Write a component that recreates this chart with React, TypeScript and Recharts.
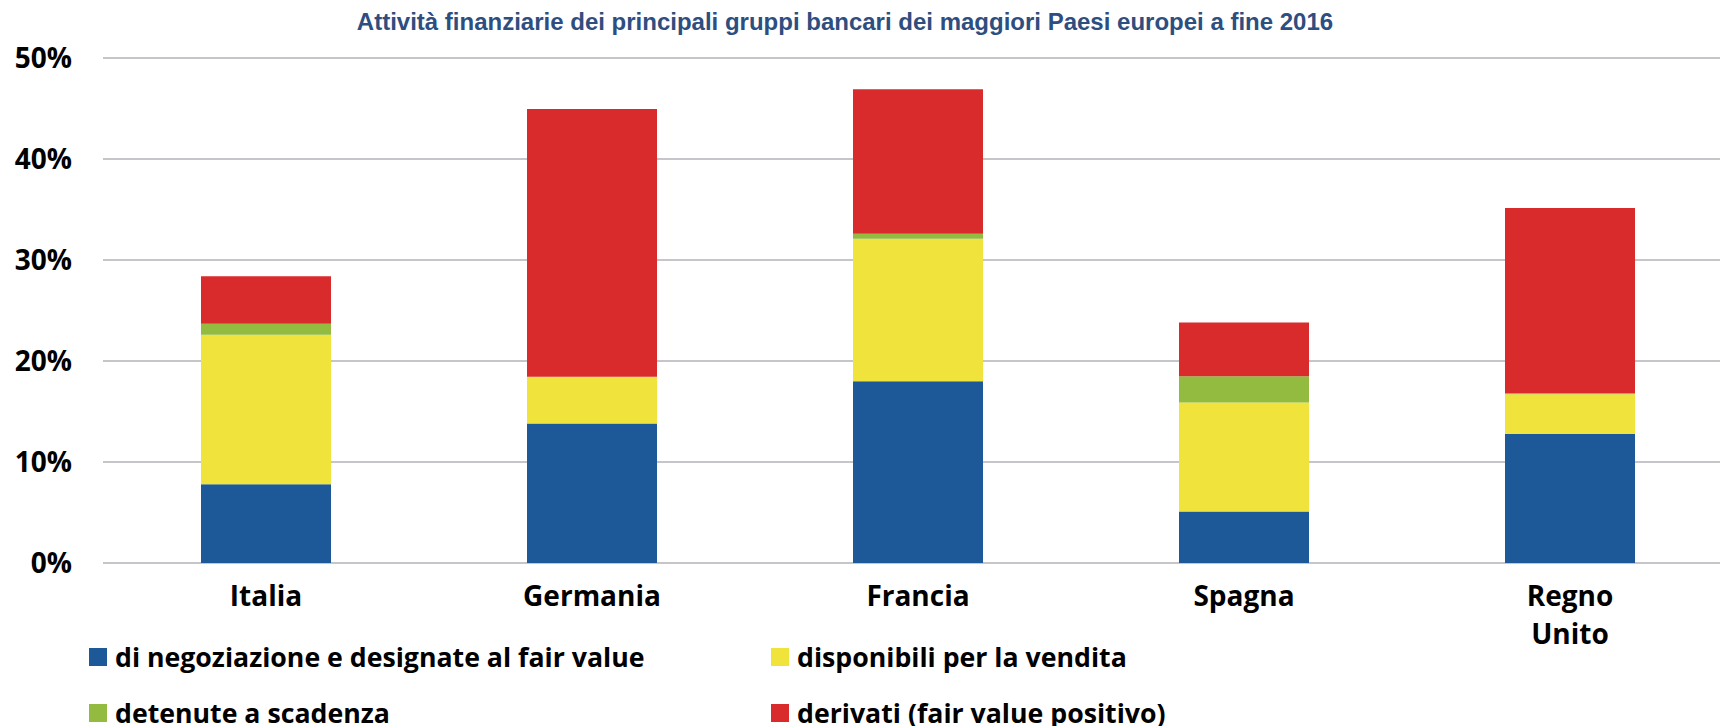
import { BarChart, Bar, XAxis, YAxis, CartesianGrid, Legend } from 'recharts'

const categories = ['Italia', 'Germania', 'Francia', 'Spagna', 'Regno Unito']
const negoziazione = [7.8, 13.8, 18.0, 5.1, 12.8]
const disponibili = [14.8, 4.65, 14.1, 10.8, 3.9]
const scadenza = [1.1, 0.0, 0.5, 2.6, 0.1]
const derivati = [4.7, 26.5, 14.3, 5.3, 18.35]
const yTicks = [0, 10, 20, 30, 40, 50]

const seriesNames = [
  'di negoziazione e designate al fair value',
  'disponibili per la vendita',
  'detenute a scadenza',
  'derivati (fair value positivo)',
]
const colors = ['#1d5899', '#f0e33c', '#92bb3f', '#d92b2c']

const data = categories.map((name, i) => ({
  name,
  negoziazione: negoziazione[i],
  disponibili: disponibili[i],
  scadenza: scadenza[i],
  derivati: derivati[i],
}))

const font = '"Open Sans", sans-serif'

function CategoryTick({ x, y, payload }: any) {
  const lines = String(payload.value).split(' ')
  return (
    <text x={x} y={y} textAnchor="middle" fontFamily={font} fontWeight={700} fontSize={28} fill="#000">
      {lines.map((line, i) => (
        <tspan key={i} x={x} dy={i === 0 ? 43 : 38}>
          {line}
        </tspan>
      ))}
    </text>
  )
}

function LegendContent({ payload }: any) {
  // keep the series order of the original legend (left to right, top to bottom)
  const items = [...(payload || [])].sort(
    (a: any, b: any) => seriesNames.indexOf(a.value) - seriesNames.indexOf(b.value)
  )
  return (
    <div
      style={{
        display: 'grid',
        gridTemplateColumns: '682px auto',
        rowGap: 16,
        fontFamily: font,
        fontWeight: 700,
        fontSize: 26.7,
        lineHeight: '40px',
        color: '#000',
      }}
    >
      {items.map((item: any) => (
        <div key={item.value} style={{ display: 'flex', alignItems: 'center', whiteSpace: 'nowrap' }}>
          <span style={{ width: 18, height: 18, background: item.color, marginRight: 8, display: 'inline-block' }} />
          {item.value}
        </div>
      ))}
    </div>
  )
}

export default function App() {
  return (
    <div style={{ position: 'absolute', left: 0, top: 0, width: 1720, height: 726, overflow: 'hidden', background: '#fff' }}>
      <div
        style={{
          position: 'absolute',
          left: 345,
          top: 8,
          width: 1000,
          textAlign: 'center',
          fontFamily: '"Liberation Sans", Arial, sans-serif',
          fontWeight: 700,
          fontSize: 24,
          color: '#2d4e7f',
          whiteSpace: 'nowrap',
        }}
      >
        Attività finanziarie dei principali gruppi bancari dei maggiori Paesi europei a fine 2016
      </div>
      <BarChart
        width={1740}
        height={726}
        data={data}
        margin={{ top: 58, right: 7, bottom: 103, left: 0 }}
        barSize={130}
      >
        <CartesianGrid vertical={false} stroke="#c6c6ca" strokeWidth={2} />
        <XAxis
          dataKey="name"
          axisLine={false}
          tickLine={false}
          tickSize={0}
          tickMargin={0}
          height={60}
          interval={0}
          tick={<CategoryTick />}
        />
        <YAxis
          domain={[0, 50]}
          ticks={yTicks}
          width={103}
          axisLine={false}
          tickLine={false}
          tickSize={0}
          tickMargin={31}
          tickFormatter={(v) => `${v}%`}
          tick={{ fontFamily: font, fontWeight: 700, fontSize: 28, fill: '#000' }}
        />
        <Legend
          layout="horizontal"
          verticalAlign="middle"
          align="center"
          wrapperStyle={{ top: 637, left: 89, width: 1200 }}
          content={<LegendContent />}
        />
        <Bar dataKey="negoziazione" name={seriesNames[0]} stackId="a" fill={colors[0]} isAnimationActive={false} />
        <Bar dataKey="disponibili" name={seriesNames[1]} stackId="a" fill={colors[1]} isAnimationActive={false} />
        <Bar dataKey="scadenza" name={seriesNames[2]} stackId="a" fill={colors[2]} isAnimationActive={false} />
        <Bar dataKey="derivati" name={seriesNames[3]} stackId="a" fill={colors[3]} isAnimationActive={false} />
      </BarChart>
    </div>
  )
}
